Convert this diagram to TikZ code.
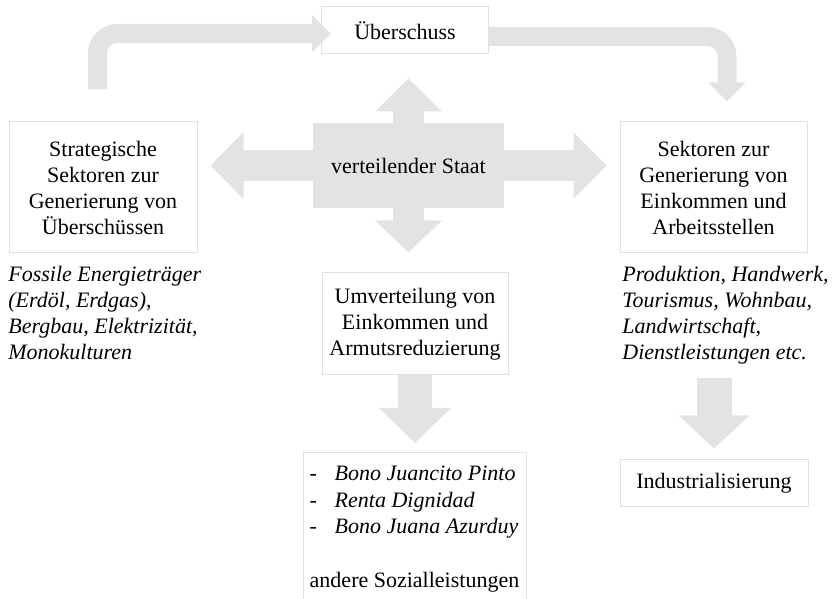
\documentclass[tikz,border=0pt]{standalone}
\usepackage{fontspec}
\setmainfont{Liberation Serif}
\usetikzlibrary{arrows.meta}
\definecolor{pfeilgrau}{RGB}{227,227,227}
\definecolor{kante}{RGB}{224,224,224}

\begin{document}
\begin{tikzpicture}[x=0.5pt, y=-0.5pt, font=\fontsize{11}{13}\selectfont,
 kasten/.style={draw=kante, line width=0.5pt, align=center, inner sep=0pt},
 liste/.style={align=left, inner sep=0pt, anchor=north west, font=\fontsize{11}{13}\selectfont\itshape},
 dickpfeil/.style n args={3}{draw=pfeilgrau, line width=#1, -{Triangle[width=#2, length=#3]}},
 bogen/.style={dickpfeil={9.5pt}{18pt}{9.5pt}, rounded corners=10pt}]
 \useasboundingbox (0,0) rectangle (832,599);
 % Kaesten
 \node[kasten, minimum width=83.5pt, minimum height=23.5pt] (ueber) at (405,30.5) {Überschuss};
 \node[kasten, minimum width=94pt, minimum height=65.5pt] (strat) at (103,187.5) {Strategische\\Sektoren zur\\Generierung von\\Überschüssen};
 \node[kasten, minimum width=93.5pt, minimum height=65.5pt] (sekt) at (713.5,187.5) {Sektoren zur\\Generierung von\\Einkommen und\\Arbeitsstellen};
 \node[fill=pfeilgrau, inner sep=0pt, minimum width=95.5pt, minimum height=42.5pt] (staat) at (408.5,165.5) {verteilender Staat};
 \node[kasten, minimum width=93pt, minimum height=51pt] (umv) at (415,324) {Umverteilung von\\Einkommen und\\Armutsreduzierung};
 \node[kasten, minimum width=94pt, minimum height=23.5pt] (indus) at (714,483.5) {Industrialisierung};
 \node[kasten, minimum width=111.5pt, minimum height=76pt, anchor=north] (bono) at (414.5,452) {%
  \fontsize{11}{13.3}\selectfont
  \begin{tabular}{@{}p{12.5pt}@{}l@{}}
  - & \textit{Bono Juancito Pinto}\\
  - & \textit{Renta Dignidad}\\
  - & \textit{Bono Juana Azurduy}\\[13.3pt]
  \multicolumn{2}{@{}c@{}}{andere Sozialleistungen}
  \end{tabular}};
 % Beispiele
 \node[liste] (fossil) at (8,266) {Fossile Energieträger\\(Erdöl, Erdgas),\\Bergbau, Elektrizität,\\Monokulturen};
 \node[liste] (prod) at (622,266) {Produktion, Handwerk,\\Tourismus, Wohnbau,\\Landwirtschaft,\\Dienstleistungen etc.};
 % Pfeile
 \draw[bogen, shorten <=16pt, shorten >=-5pt] ([xshift=-2.75pt]strat.north) |- ([yshift=-1.5pt]ueber.west);
 \draw[bogen, shorten >=10pt] ([yshift=-3pt]ueber.east) -| ([xshift=6.75pt]sekt.north);
 \draw[dickpfeil={15.75pt}{32.5pt}{16.5pt}, shorten >=6.5pt] (staat.west) -- (staat.west -| strat.east);
 \draw[dickpfeil={15.75pt}{32.5pt}{16.5pt}, shorten >=6.5pt] (staat.east) -- (staat.east -| sekt.west);
 \draw[dickpfeil={15.5pt}{32.5pt}{16.5pt}, shorten >=12pt] (staat.north) -- (staat.north |- ueber.south);
 \draw[dickpfeil={15.5pt}{32.5pt}{16pt}, shorten >=10pt] (staat.south) -- (staat.south |- umv.north);
 \draw[dickpfeil={17pt}{35pt}{17.5pt}, shorten >=4.5pt] (umv.south) -- (umv.south |- bono.north);
 \draw[dickpfeil={17.5pt}{34.5pt}{16.5pt}, shorten <=6.5pt, shorten >=5.5pt] (indus.north |- prod.south) -- (indus.north);
\end{tikzpicture}
\end{document}
